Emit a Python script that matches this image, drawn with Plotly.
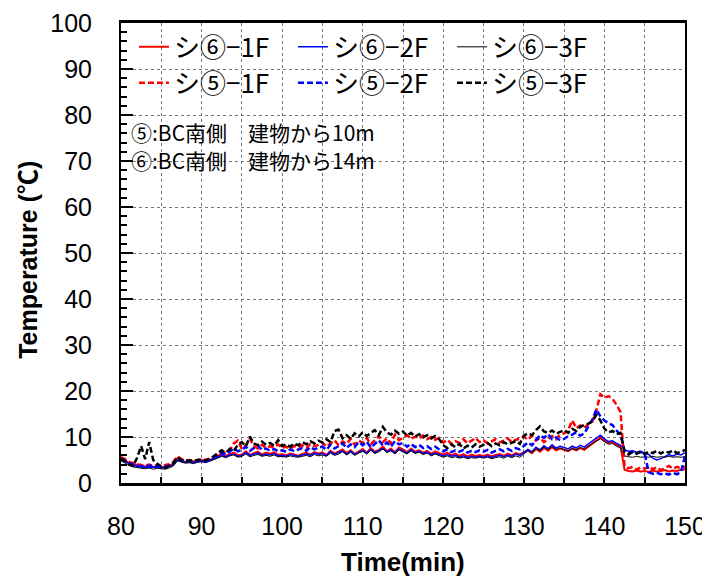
import numpy as np
import plotly.graph_objects as go

# time axis (min), 0.5-min steps from 80 to 150
time_min = [80 + 0.5 * i for i in range(141)]

s6_1F = [5.2, 4.9, 4.4, 4.1, 3.9, 3.8, 3.6, 3.7, 3.5, 3.6,
         3.5, 3.4, 3.7, 4.2, 5.4, 4.9, 4.6, 4.8, 4.7, 4.9,
         5.0, 4.8, 5.1, 5.3, 5.9, 6.4, 5.9, 6.3, 6.6, 6.0,
         6.2, 6.9, 6.1, 6.5, 6.8, 6.2, 6.6, 6.3, 6.7, 6.1,
         6.3, 6.0, 6.4, 6.2, 5.9, 6.3, 6.6, 6.1, 6.7, 6.4,
         6.6, 6.1, 7.0, 6.4, 6.8, 7.3, 6.5, 7.1, 6.3, 6.9,
         7.4, 6.6, 7.6, 6.8, 7.2, 7.9, 6.9, 7.5, 6.7, 7.7,
         7.3, 6.7, 7.5, 6.8, 7.1, 6.6, 7.0, 6.4, 6.9, 6.5,
         6.2, 6.6, 6.0, 6.4, 5.9, 6.3, 5.8, 6.2, 5.9, 6.1,
         5.9, 6.2, 5.8, 6.1, 6.3, 5.9, 6.4, 6.0, 6.5, 6.2,
         6.7, 7.1, 6.5, 7.4, 6.8, 7.6, 7.0, 7.8, 7.1, 7.5,
         7.2, 6.9, 7.5, 7.1, 7.6, 7.2, 7.9, 8.6, 9.3, 9.9,
         9.2, 8.7, 8.9, 8.3, 7.9, 2.9, 2.6, 2.5, 2.7, 2.5,
         2.6, 2.4, 2.7, 2.5, 2.6, 2.8, 2.5, 2.7, 2.6, 2.9,
         3.0]

s6_2F = [5.0, 4.6, 4.2, 3.9, 3.6, 3.5, 3.4, 3.3, 3.5, 3.4,
         3.3, 3.4, 3.6, 4.0, 5.0, 4.7, 4.5, 4.6, 4.4, 4.7,
         4.8, 4.6, 4.9, 5.2, 5.6, 6.0, 5.7, 6.1, 6.3, 5.8,
         6.0, 6.6, 6.0, 6.3, 6.5, 6.0, 6.3, 6.1, 6.4, 5.9,
         6.0, 5.8, 6.2, 6.0, 5.8, 6.1, 6.3, 6.0, 6.5, 6.2,
         6.4, 6.0, 6.8, 6.2, 6.6, 7.0, 6.3, 6.9, 6.2, 6.7,
         7.1, 6.5, 7.3, 6.6, 7.0, 7.5, 6.8, 7.2, 6.5, 7.4,
         7.0, 6.5, 7.2, 6.6, 6.9, 6.4, 6.7, 6.1, 6.5, 6.2,
         5.9, 6.2, 5.8, 6.0, 5.6, 5.9, 5.5, 5.8, 5.6, 5.8,
         5.6, 5.9, 5.5, 5.8, 6.0, 5.7, 6.1, 5.8, 6.3, 6.0,
         6.6, 7.3, 6.8, 7.8, 7.2, 8.1, 7.5, 8.3, 7.6, 8.0,
         7.7, 7.4, 8.0, 7.6, 8.2, 7.8, 8.5, 9.2, 9.8, 10.4,
         9.6, 9.0, 9.2, 8.6, 8.2, 7.2, 6.9, 7.0, 6.7, 6.9,
         6.5, 6.2, 5.4, 5.0, 5.3, 5.8, 6.2, 5.9, 6.3, 6.1,
         6.6]

s6_3F = [4.8, 4.3, 3.9, 3.5, 3.3, 3.2, 3.1, 3.3, 3.0, 3.2,
         3.1, 3.0, 3.3, 3.7, 4.8, 4.5, 4.3, 4.4, 4.2, 4.5,
         4.6, 4.4, 4.7, 5.0, 5.4, 5.8, 5.5, 5.9, 6.1, 5.6,
         5.8, 6.3, 5.7, 6.0, 6.2, 5.8, 6.0, 5.8, 6.1, 5.7,
         5.8, 5.6, 5.9, 5.7, 5.6, 5.8, 6.0, 5.7, 6.2, 5.9,
         6.1, 5.8, 6.5, 6.0, 6.3, 6.8, 6.1, 6.7, 6.0, 6.5,
         6.9, 6.3, 7.1, 6.4, 6.8, 7.4, 6.6, 7.0, 6.3, 7.2,
         6.8, 6.3, 7.0, 6.4, 6.7, 6.2, 6.5, 5.9, 6.3, 6.0,
         5.6, 5.9, 5.5, 5.7, 5.4, 5.6, 5.3, 5.5, 5.4, 5.6,
         5.4, 5.6, 5.3, 5.5, 5.7, 5.4, 5.8, 5.5, 5.9, 5.6,
         6.3, 7.0, 6.6, 7.5, 7.0, 7.8, 7.2, 7.9, 7.3, 7.6,
         7.3, 7.0, 7.5, 7.2, 7.7, 7.4, 8.0, 8.6, 9.1, 9.6,
         8.9, 8.4, 8.6, 8.0, 7.6, 5.9, 5.7, 5.6, 5.8, 5.6,
         5.7, 5.6, 5.8, 5.6, 5.7, 5.6, 5.8, 5.6, 5.7, 5.6,
         5.7]

s5_1F = [5.6, 5.2, 4.6, 4.3, 4.1, 3.9, 3.8, 4.0, 3.7, 3.9,
         3.8, 3.9, 4.1, 4.6, 5.8, 5.2, 4.9, 5.0, 4.8, 5.0,
         5.1, 5.0, 5.3, 5.6, 6.3, 6.8, 6.5, 7.2, 8.6, 9.2,
         7.4, 8.2, 9.6, 8.0, 7.5, 8.3, 7.6, 8.0, 7.7, 8.4,
         7.6, 7.9, 7.4, 8.1, 7.7, 8.2, 7.6, 8.5, 8.0, 8.3,
         8.8, 7.9, 8.6, 9.3, 8.2, 9.0, 8.5, 9.6, 8.3, 9.2,
         8.7, 9.8, 8.4, 9.4, 10.2, 8.9, 9.7, 8.6, 10.5, 9.3,
         9.9, 10.4, 9.6, 10.1, 9.7, 10.3, 9.5, 10.0, 9.4, 9.8,
         8.8, 9.4, 8.5, 9.1, 8.7, 9.5, 8.6, 9.2, 9.8, 8.9,
         9.3, 8.6, 9.0, 9.5, 8.8, 9.2, 9.7, 8.9, 9.4, 9.6,
         10.1, 9.4, 10.3, 9.2, 9.8, 8.9, 9.6, 10.2, 9.5, 10.5,
         10.8, 11.5, 13.6, 11.9, 12.5, 12.0, 12.8, 13.4, 15.8, 19.3,
         18.5, 18.9, 18.3, 17.0, 15.4, 3.6, 3.2, 3.5, 2.9, 3.4,
         3.1, 3.6, 3.0, 3.4, 2.8, 3.3, 3.7, 3.1, 3.5, 3.2,
         3.6]

s5_2F = [5.3, 4.9, 4.4, 4.0, 3.8, 3.7, 3.5, 3.8, 3.6, 3.7,
         3.6, 3.5, 3.9, 4.4, 5.5, 5.0, 4.7, 4.9, 4.6, 4.8,
         4.9, 4.7, 5.0, 5.5, 6.0, 6.6, 6.2, 6.8, 7.5, 6.9,
         7.2, 7.9, 7.0, 7.6, 8.1, 7.2, 7.5, 7.0, 7.4, 6.9,
         7.1, 6.8, 7.3, 6.9, 7.2, 7.6, 7.0, 7.8, 7.3, 7.7,
         7.9, 7.2, 8.3, 7.5, 8.0, 8.6, 7.6, 8.4, 7.8, 8.9,
         8.2, 9.0, 7.7, 8.6, 9.3, 8.1, 8.8, 7.9, 9.1, 8.4,
         8.7, 7.9, 8.5, 7.8, 8.3, 7.6, 8.0, 7.4, 7.9, 7.3,
         6.9, 7.3, 6.7, 7.1, 6.8, 7.2, 6.6, 7.0, 6.7, 7.1,
         6.8, 7.2, 6.6, 7.0, 7.3, 6.9, 7.4, 7.0, 7.6, 7.3,
         8.0, 8.8, 8.2, 9.4, 10.4, 9.8, 10.6, 9.5, 9.9, 9.3,
         9.6, 10.2, 10.5, 11.0, 10.3, 10.8, 12.4, 13.8, 16.0, 14.5,
         13.6, 13.0, 12.6, 11.4, 10.5, 7.0, 6.6, 6.8, 6.4, 6.7,
         6.3, 2.3, 2.0, 2.2, 1.9, 2.1, 1.8, 2.2, 1.9, 2.4,
         5.9]

s5_3F = [5.4, 4.6, 4.0, 3.7, 5.5, 8.0, 5.2, 8.9, 5.0, 4.2,
         3.6, 3.3, 3.8, 4.3, 5.6, 5.0, 4.8, 4.9, 4.7, 5.0,
         5.1, 4.9, 5.3, 5.8, 6.5, 7.1, 6.6, 7.4, 7.0, 8.3,
         8.9, 8.0, 10.1, 8.6, 8.2, 9.0, 8.3, 8.7, 8.1, 9.3,
         8.0, 8.4, 7.9, 8.6, 8.2, 8.9, 8.4, 9.1, 8.6, 9.2,
         8.8, 9.5, 8.9, 11.3, 11.6, 9.7, 10.4, 9.6, 10.8, 10.1,
         11.0, 10.2, 10.9, 11.5, 10.4, 12.2, 11.0, 10.5, 11.4, 10.7,
         11.2, 10.3, 10.9, 10.1, 10.6, 9.9, 10.4, 9.7, 10.2, 9.5,
         8.2, 7.6, 8.4, 7.8, 8.5, 7.5, 8.1, 7.7, 8.4, 7.9,
         8.3, 8.7, 8.0, 8.6, 8.2, 8.9, 8.4, 8.7, 9.1, 8.5,
         10.3, 10.8, 10.4, 11.5, 12.3, 11.2, 10.9, 11.4, 10.7, 11.1,
         11.5, 10.9, 11.8, 11.3, 12.2, 12.6, 12.9, 13.4, 14.8, 13.6,
         11.8, 11.0, 11.3, 10.6, 10.9, 6.7, 6.2, 6.8, 6.4, 6.9,
         6.3, 6.8, 6.5, 7.0, 6.4, 6.9, 6.6, 7.1, 6.5, 6.8,
         7.2]

series_names = ["シ⑥−1F", "シ⑥−2F", "シ⑥−3F", "シ⑤−1F", "シ⑤−2F", "シ⑤−3F"]
series_values = [s6_1F, s6_2F, s6_3F, s5_1F, s5_2F, s5_3F]
x_tick_vals = [80, 90, 100, 110, 120, 130, 140, 150]
y_tick_vals = [0, 10, 20, 30, 40, 50, 60, 70, 80, 90, 100]
notes = ["⑤:BC南側　建物から10m", "⑥:BC南側　建物から14m"]

colors = ["#ff0000", "#0000ff", "#000000", "#ff0000", "#0000ff", "#000000"]
widths = [2, 1.5, 1, 2.5, 2.5, 2.5]
dashes = ["solid", "solid", "solid", "6px,3px", "6px,3px", "6px,3px"]
legends = ["legend", "legend", "legend", "legend2", "legend2", "legend2"]

fig = go.Figure()
for name, vals, c, w, d, lg in zip(series_names, series_values, colors, widths, dashes, legends):
    fig.add_trace(go.Scatter(x=time_min, y=vals, mode="lines", name=name,
                             line=dict(color=c, width=w, dash=d), legend=lg))

tick_font = dict(family="Liberation Sans, Arial, sans-serif", size=25, color="#000")
leg_font = dict(family="Noto Sans CJK JP", size=26, color="#000")

leg_common = dict(orientation="h", x=0.023, xanchor="left", yanchor="middle",
                  bgcolor="rgba(0,0,0,0)", font=leg_font, entrywidth=114,
                  entrywidthmode="pixels", itemwidth=30, traceorder="normal",
                  borderwidth=0)

# the page body adds an 8px margin, so the figure is 8px smaller than the window
fig.update_layout(
    width=702, height=570,
    margin=dict(l=113, r=25, t=15, b=95, autoexpand=False),
    paper_bgcolor="white", plot_bgcolor="white",
    showlegend=True,
    legend=dict(y=0.948, **leg_common),
    legend2=dict(y=0.870, **leg_common),
    xaxis=dict(range=[80, 150], tickvals=x_tick_vals, ticks="inside", ticklen=6,
               tickwidth=2, tickcolor="#000", showline=True, linewidth=3,
               linecolor="#000", mirror=True, showgrid=True, gridcolor="#777",
               griddash="dot", gridwidth=1, tickfont=tick_font, ticklabelstandoff=19,
               zeroline=False,
               minor=dict(dtick=5, ticks="inside", ticklen=6, tickwidth=2,
                          tickcolor="#000", showgrid=True, gridcolor="#777",
                          griddash="dot", gridwidth=1)),
    yaxis=dict(range=[0, 100], tickvals=y_tick_vals, ticks="inside", ticklen=12,
               tickwidth=1.5, tickcolor="#000", showline=True, linewidth=2,
               linecolor="#000", mirror=True, showgrid=True, gridcolor="#777",
               griddash="dot", gridwidth=1, tickfont=tick_font, ticklabelstandoff=22,
               zeroline=False,
               minor=dict(dtick=2, ticks="inside", ticklen=6, tickwidth=1.5,
                          tickcolor="#000", showgrid=False)),
    shapes=[
        dict(type="rect", xref="paper", yref="paper", x0=0, x1=0.856, y0=0.826, y1=1.0,
             fillcolor="white", line=dict(width=0), layer="between"),
        dict(type="rect", xref="paper", yref="paper", x0=0, x1=0.491, y0=0.663, y1=0.811,
             fillcolor="white", line=dict(width=0), layer="between"),
    ],
    annotations=[
        dict(text=notes[0], xref="paper", yref="paper", x=0.014, y=0.763,
             xanchor="left", yanchor="middle", showarrow=False,
             font=dict(family="Noto Sans CJK JP", size=21, color="#000")),
        dict(text=notes[1], xref="paper", yref="paper", x=0.014, y=0.702,
             xanchor="left", yanchor="middle", showarrow=False,
             font=dict(family="Noto Sans CJK JP", size=21, color="#000")),
        dict(text="<b>Temperature (℃)</b>", xref="paper", yref="paper", x=-0.165, y=0.485,
             xanchor="center", yanchor="middle", textangle=-90, showarrow=False,
             font=dict(family="Liberation Sans, Noto Sans CJK JP", size=25, color="#000")),
        dict(text="<b>Time(min)</b>", xref="paper", yref="paper", x=0.5, y=-0.172,
             xanchor="center", yanchor="middle", showarrow=False,
             font=dict(family="Liberation Sans, Arial, sans-serif", size=26, color="#000")),
    ],
)

fig.write_html("out.html")
